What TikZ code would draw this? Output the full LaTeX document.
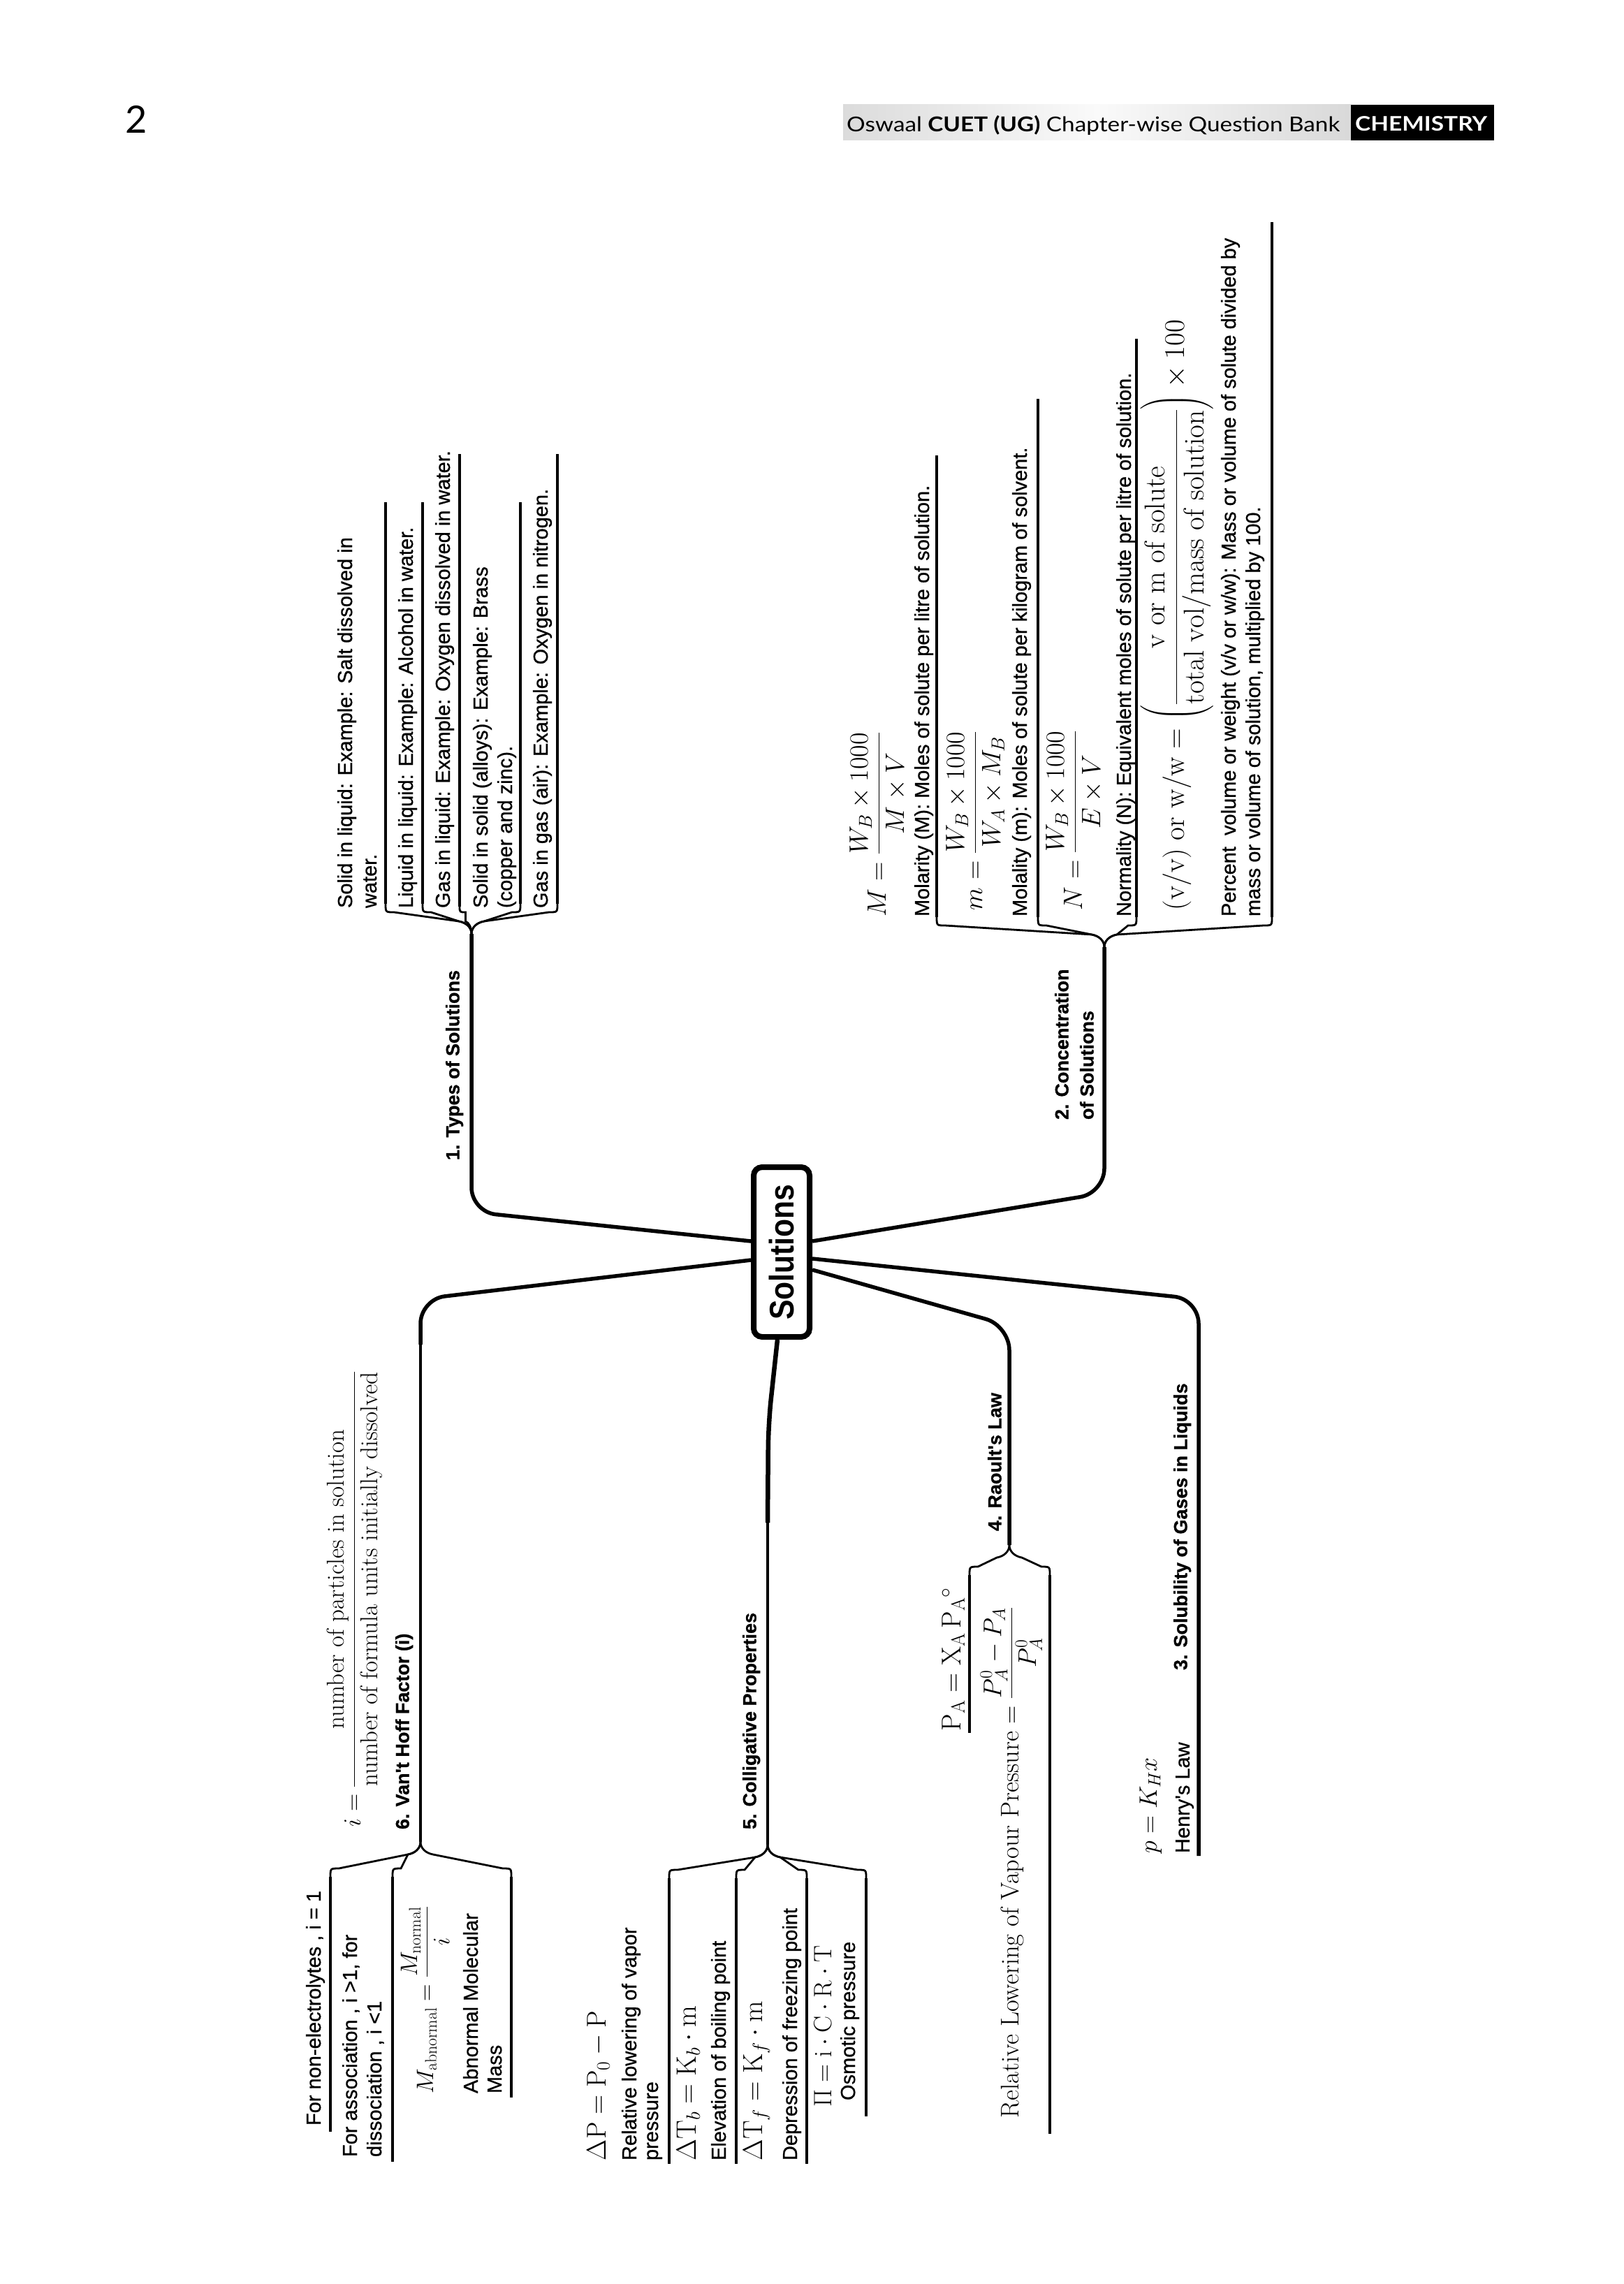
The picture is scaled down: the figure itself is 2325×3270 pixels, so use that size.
\RequirePackage{fix-cm}
\documentclass[tikz,border=0pt]{standalone}
\usepackage{amsmath}
\usepackage{graphicx}
\usepackage{fontspec}
\newfontfamily\sans[FakeBold=0.8]{Liberation Sans}
\newfontfamily\solfont[FakeStretch=0.87]{Liberation Sans}
\newfontfamily\hdr{Lato}
\usetikzlibrary{backgrounds}

\newcommand\brlink[6]{%
  \pgfmathsetmacro\brS{sign((#3)-(#1))}%
  \pgfmathsetmacro\brW{min(18,abs((#3)-(#1))/2)}%
  \pgfmathsetmacro\brR{min(12,abs((#3)-(#1))/2)}%
  \draw[brc] (#1,#2) .. controls (#1,{(#2)+(#6)*9}) and ({(#1)+(\brS)*(\brW)*0.4},{(#2)+(#6)*16}) .. ({(#1)+(\brS)*(\brW)},{(#2)+(#6)*18}) -- ({(#3)-(\brS)*(\brR)},#4) .. controls (#3,#4) .. (#3,{(#4)+(#6)*(\brR)});
  \draw[uline] (#3,{(#4)+(#6)*(\brR)}) -- (#3,#5);
}

\tikzset{
  rt/.style={rotate=90, inner sep=0pt, outer sep=0pt},
  leaf/.style={rt, anchor=north west, align=left, font=\sans\fontsize{29}{35}\selectfont},
  lab/.style={rt, anchor=north west, align=left, font=\sans\bfseries\fontsize{27}{36}\selectfont},
  fm/.style={rt, anchor=base west, font=\fontsize{37}{44}\selectfont},
  uline/.style={line width=3.8pt},
  brc/.style={line width=2.8pt, line cap=round},
  mainbr/.style={line width=5.5pt, rounded corners=35pt},
  thinbr/.style={line width=3.4pt},
}

\begin{document}
\begin{tikzpicture}[x=1pt,y=1pt]
\useasboundingbox (0,0) rectangle (2325,-3270);

% ---------- header ----------
\node[font=\hdr\fontsize{54}{60}\selectfont, anchor=base, inner sep=0pt] (pg) at (195,-191) {2};
\shade[left color=gray!28, right color=gray!30, middle color=gray!4] (1207,-150) rectangle (1934,-201);
\fill[black] (1934,-150) rectangle (2139,-201);
\node[anchor=base west, inner sep=0pt] (hdr) at (1212,-189)
  {\resizebox{706pt}{23pt}{\hdr Oswaal \textbf{CUET (UG)} Chapter-wise Question Bank}};
\node[anchor=base west, inner sep=0pt, text=white] (chem) at (1940,-188)
  {\resizebox{189pt}{21pt}{\hdr\bfseries CHEMISTRY}};

% ---------- central topic ----------
\node[draw, line width=8pt, rounded corners=12pt, fill=white, rotate=90,
      minimum width=243pt, minimum height=80pt, inner sep=0pt,
      font=\solfont\bfseries\fontsize{49}{54}\selectfont] (sol) at (1119,-1792.5) {Solutions};

% ---------- main branches ----------
\begin{scope}[on background layer]
  \fill[white] (0,0) rectangle (2325,-3270);
  \draw[mainbr] ([yshift=15.5pt]sol.north) -- (675,-1735) -- (675,-1337) coordinate (jT);
  \draw[mainbr] ([yshift=15.5pt]sol.south) -- (1581,-1708) -- (1581,-1356) coordinate (jC);
  \draw[mainbr] ([yshift=-11.5pt]sol.north) -- (602,-1860) -- (602,-1925) coordinate (vA);
  \draw[thinbr] (vA) -- (602,-2637) coordinate (jV);
  \draw[mainbr, line width=6.5pt] ([xshift=-6pt]sol.west) -- (1100,-2038) -- (1099,-2180) coordinate (cA);
  \draw[thinbr] (cA) -- (1099,-2641) coordinate (jCo);
  \draw[mainbr] ([yshift=-25.5pt]sol.south) -- (1445,-1898) -- (1445,-2212) coordinate (jR);
  \draw[mainbr] ([yshift=-9.5pt]sol.south) -- (1716,-1860) -- (1716,-2657) coordinate (eS);
\end{scope}

% ---------- 1. Types of Solutions ----------
\node[lab] (lT) at (638,-1661) {1. Types of Solutions};
\brlink{675}{-1337}{552}{-1306}{-719}{1}
\brlink{675}{-1337}{605}{-1306}{-719}{1}
\brlink{675}{-1337}{658}{-1306}{-650}{1}
\brlink{675}{-1337}{745}{-1306}{-719}{1}
\brlink{675}{-1337}{798}{-1306}{-650}{1}
\node[leaf] (t1) at (483,-1300) {Solid in liquid: Example: Salt dissolved in\\water.};
\node[leaf] (t2) at (570,-1300) {Liquid in liquid: Example: Alcohol in water.};
\node[leaf] (t3) at (623,-1300) {Gas in liquid: Example: Oxygen dissolved in water.};
\node[leaf] (t4) at (677,-1300) {Solid in solid (alloys): Example: Brass\\(copper and zinc).};
\node[leaf] (t5) at (763,-1300) {Gas in gas (air): Example: Oxygen in nitrogen.};

% ---------- 2. Concentration of Solutions ----------
\node[lab] (lC) at (1510,-1603) {2. Concentration\\of Solutions};
\brlink{1581}{-1356}{1341}{-1325}{-652}{1}
\brlink{1581}{-1356}{1486}{-1325}{-571}{1}
\brlink{1581}{-1356}{1627}{-1325}{-485}{1}
\brlink{1581}{-1356}{1821}{-1325}{-318}{1}
\node[fm, font=\fontsize{38}{44}\selectfont] (c1f) at (1268,-1312) {$M = \dfrac{W_B \times 1000}{M \times V}$};
\node[leaf] (c1t) at (1309,-1312) {Molarity (M): Moles of solute per litre of solution.};
\node[fm, font=\fontsize{38}{44}\selectfont] (c2f) at (1406,-1303) {$m = \dfrac{W_B \times 1000}{W_A \times M_B}$};
\node[leaf] (c2t) at (1449,-1312) {Molality (m): Moles of solute per kilogram of solvent.};
\node[fm, font=\fontsize{38}{44}\selectfont] (c3f) at (1549,-1303) {$N = \dfrac{W_B \times 1000}{E \times V}$};
\node[leaf] (c3t) at (1598,-1312) {Normality (N): Equivalent moles of solute per litre of solution.};
\node[fm, font=\fontsize{41}{46}\selectfont] (c4f) at (1695,-1303)
  {$\mathrm{(v/v)\ or\ w/w} = \left(\dfrac{\mathrm{v\ or\ m\ of\ solute}}{\mathrm{total\ vol/mass\ of\ solution}}\right) \times 100$};
\node[leaf] (c4t) at (1748,-1312) {Percent\ \ volume or weight (v/v or w/w): Mass or volume of solute divided by\\mass or volume of solution, multiplied by 100.};

% ---------- 6. Van't Hoff Factor ----------
\node[fm, font=\fontsize{35}{40}\selectfont] (vf) at (516,-2615)
  {$i = \dfrac{\text{number of particles in solution}}{\text{number of formula units initially dissolved}}$};
\node[lab] (lV) at (566,-2619) {6. Van't Hoff Factor (i)};
\brlink{602}{-2637}{473}{-2675}{-3052}{-1}
\brlink{602}{-2637}{562}{-2675}{-3095}{-1}
\brlink{602}{-2637}{732}{-2675}{-3003}{-1}
\node[leaf] (v1) at (438,-3043) {For non-electrolytes , i = 1};
\node[leaf] (v2) at (490,-3088) {For association , i >1, for\\dissociation , i <1};
\node[fm, font=\fontsize{34}{40}\selectfont] (v3f) at (620,-2997) {$M_{\text{abnormal}} = \dfrac{M_{\text{normal}}}{i}$};
\node[leaf, font=\sans\fontsize{29}{34}\selectfont] (v3t) at (663,-2997) {Abnormal Molecular\\Mass};

% ---------- 5. Colligative Properties ----------
\node[lab] (lCo) at (1063,-2619) {5. Colligative Properties};
\brlink{1099}{-2641}{958}{-2677}{-3098}{-1}
\brlink{1099}{-2641}{1054}{-2677}{-3098}{-1}
\brlink{1099}{-2641}{1155}{-2677}{-3098}{-1}
\brlink{1099}{-2641}{1240}{-2677}{-3030}{-1}
\node[fm, font=\fontsize{39}{44}\selectfont] (aF) at (867,-3093) {$\Delta\mathrm{P} = \mathrm{P}_0 - \mathrm{P}$};
\node[leaf, font=\sans\fontsize{29}{31}\selectfont] (aT) at (890,-3093) {Relative lowering of vapor\\pressure};
\node[fm, font=\fontsize{40}{44}\selectfont] (bF) at (996,-3093) {$\Delta\mathrm{T}_b = \mathrm{K}_b \cdot \mathrm{m}$};
\node[leaf] (bT) at (1018,-3093) {Elevation of boiling point};
\node[fm, font=\fontsize{39.5}{44}\selectfont] (cF) at (1091,-3093) {$\Delta\mathrm{T}_f = \mathrm{K}_f \cdot \mathrm{m}$};
\node[leaf] (cT) at (1120,-3093) {Depression of freezing point};
\node[fm, font=\fontsize{36}{40}\selectfont] (dF) at (1190,-3016) {$\Pi = \mathrm{i \cdot C \cdot R \cdot T}$};
\node[leaf] (dT) at (1203,-3007) {Osmotic pressure};

% ---------- 4. Raoult's Law ----------
\node[lab] (lR) at (1414,-2192) {4. Raoult's Law};
\brlink{1445}{-2212}{1388}{-2243}{-2481}{-1}
\brlink{1445}{-2212}{1503}{-2243}{-3055}{-1}
\node[fm, font=\fontsize{39}{44}\selectfont] (r1) at (1375,-2478) {$\mathrm{P_A = X_A\,P_A{}^{\circ}}$};
\node[fm, font=\fontsize{36.5}{40}\selectfont] (r2) at (1458,-3032)
  {$\text{Relative Lowering of Vapour Pressure} = \dfrac{P_A^0 - P_A}{P_A^0}$};

% ---------- 3. Solubility of Gases in Liquids ----------
\node[lab] (lS) at (1680,-2391) {3. Solubility of Gases in Liquids};
\node[fm, font=\fontsize{36}{40}\selectfont] (sF) at (1656,-2653) {$p = K_H x$};
\node[leaf] (sT) at (1683,-2653) {Henry's Law};

\end{tikzpicture}
\end{document}
